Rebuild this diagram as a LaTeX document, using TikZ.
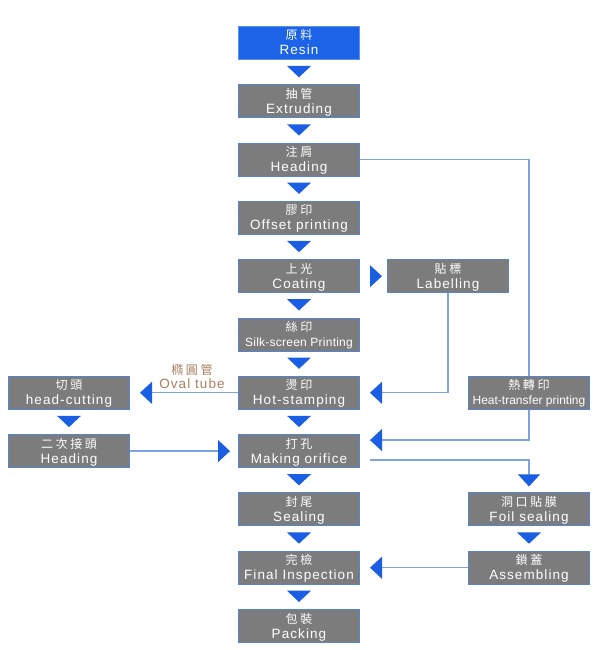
\documentclass[tikz,border=0pt]{standalone}
\usepackage{fontspec}
\usetikzlibrary{arrows.meta,calc}
\newfontfamily\enf{Liberation Sans}[LetterSpace=8]
\newfontfamily\ennarrow{Liberation Sans}[LetterSpace=2]
\newfontfamily\enheat{Liberation Sans}[LetterSpace=0]
\newfontfamily\cjkf{Noto Sans CJK TC}[LetterSpace=22]
\definecolor{boxgray}{HTML}{7C7C7C}
\definecolor{boxline}{HTML}{5584D2}
\definecolor{resinblue}{HTML}{1C63E8}
\definecolor{resinline}{HTML}{5A92F0}
\definecolor{triblue}{HTML}{1A5FE3}
\definecolor{connblue}{HTML}{7FA3E0}
\definecolor{ovalbrown}{HTML}{A87F62}
\newcommand\bt[2]{{\cjkf\fontsize{12}{15}\selectfont #1}\rule{0pt}{12pt}\\{#2}\rule[-3pt]{0pt}{3pt}}
\tikzset{
  x=1pt, y=-1pt,
  stepbox/.style={draw=boxline, fill=boxgray, line width=1pt, text=white,
    minimum width=121pt, minimum height=33pt, inner sep=0pt, align=center,
    font=\enf\fontsize{13.5}{15}\selectfont},
  resinbox/.style={stepbox, draw=resinline, fill=resinblue},
  tri/.style={fill=triblue},
  conn/.style={draw=connblue, line width=1.3pt},
  tip/.style={-{Triangle[width=22pt,length=12pt,color=triblue]}},
  ovaltext/.style={text=ovalbrown, inner sep=0pt}
}
\newcommand\downtri[2]{\fill[tri] ($(#1.south)+(-12,6)$) -- ($(#1.south)+(12,6)$) -- ($(#2.north)+(0,-7)$) -- cycle;}
\begin{document}
\begin{tikzpicture}
\useasboundingbox (0,0) rectangle (597,650);
\fill[white] (0,0) rectangle (597,650);
% main column
\node[resinbox] (resin) at (299,43) {\bt{原料}{Resin}};
\node[stepbox] (extr) at (299,101.3) {\bt{抽管}{Extruding}};
\node[stepbox] (head) at (299,159.6) {\bt{注肩}{Heading}};
\node[stepbox] (offs) at (299,217.9) {\bt{膠印}{Offset printing}};
\node[stepbox] (coat) at (299,276.2) {\bt{上光}{Coating}};
\node[stepbox] (silk) at (299,334.5) {\bt{絲印}{\ennarrow\fontsize{12}{15}\selectfont Silk-screen Printing}};
\node[stepbox] (hot) at (299,392.8) {\bt{燙印}{Hot-stamping}};
\node[stepbox] (mak) at (299,451.1) {\bt{打孔}{Making orifice}};
\node[stepbox] (seal) at (299,509.4) {\bt{封尾}{Sealing}};
\node[stepbox] (fin) at (299,567.7) {\bt{完檢}{Final Inspection}};
\node[stepbox] (pack) at (299,626) {\bt{包裝}{Packing}};
% right column
\node[stepbox] (lab) at (448,276.2) {\bt{貼標}{Labelling}};
\node[stepbox] (heat) at (529,392.8) {\bt{熱轉印}{\enheat\fontsize{12}{15}\selectfont Heat-transfer printing}};
\node[stepbox] (foil) at (529,509.4) {\bt{洞口貼膜}{Foil sealing}};
\node[stepbox] (asm) at (529,567.7) {\bt{鎖蓋}{Assembling}};
% left column
\node[stepbox] (cut) at (69,392.8) {\bt{切頭}{head-cutting}};
\node[stepbox] (head2) at (69,451.1) {\bt{二次接頭}{Heading}};
% down triangles
\downtri{resin}{extr}
\downtri{extr}{head}
\downtri{head}{offs}
\downtri{offs}{coat}
\downtri{coat}{silk}
\downtri{silk}{hot}
\downtri{hot}{mak}
\downtri{mak}{seal}
\downtri{seal}{fin}
\downtri{fin}{pack}
\downtri{foil}{asm}
\downtri{cut}{head2}
% coating -> labelling
\fill[tri] ($(coat.east)+(10,-11)$) -- ($(coat.east)+(10,11)$) -- ($(lab.west)+(-5,0)$) -- cycle;
% connectors
\draw[conn] (head.east) -| (heat.north);
\draw[conn,tip] (heat.south) |- ($(mak.east)+(10,-11)$);
\draw[conn,tip] (lab.south) |- ($(hot.east)+(10,0)$);
\draw[conn,tip] (hot.west) -- ($(cut.east)+(10,0)$);
\draw[conn,tip] (head2.east) -- ($(mak.west)+(-8,0)$);
\draw[conn,tip] ($(mak.east)+(10,9)$) -| ($(foil.north)+(0,-6)$);
\draw[conn,tip] (asm.west) -- ($(fin.east)+(10,0)$);
% oval tube label
\node[ovaltext, anchor=base, font=\cjkf\fontsize{12}{15}\selectfont] (ovalzh) at (192,374.5) {橢圓管};
\node[ovaltext, anchor=base, font=\enf\fontsize{13.5}{15}\selectfont] (ovalen) at (192,388) {Oval tube};
\end{tikzpicture}
\end{document}
